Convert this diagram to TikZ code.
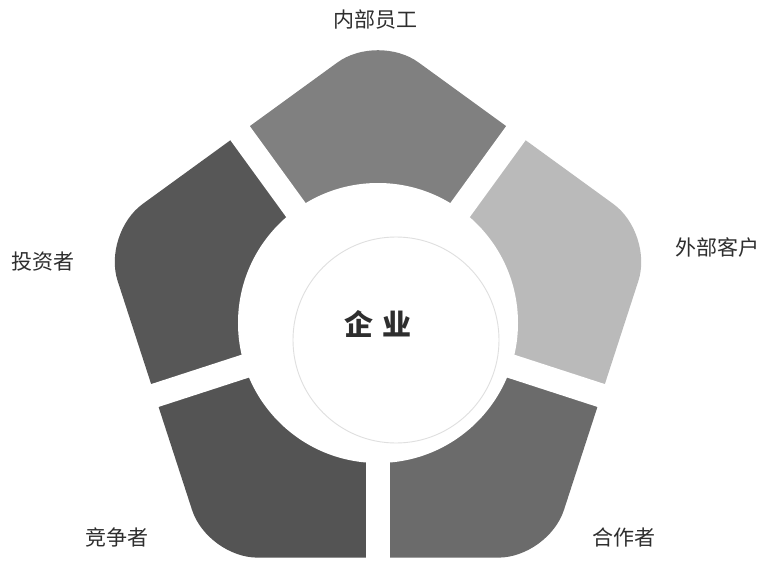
\documentclass[tikz,border=0pt]{standalone}
\usepackage{fontspec}
\newfontfamily\cjk{Noto Sans CJK SC}
\definecolor{segA}{gray}{0.50}
\definecolor{segB}{gray}{0.34}
\definecolor{segC}{gray}{0.33}
\definecolor{segD}{gray}{0.42}
\definecolor{segE}{gray}{0.73}
\definecolor{txt}{gray}{0.18}
\begin{document}
\begin{tikzpicture}[x=1pt,y=1pt,
  pent/.style={rounded corners=50pt},
  gapline/.style={white, line width=24pt},
  lbl/.style={font=\cjk\fontsize{21}{21}\selectfont, text=txt, inner sep=0pt},
  ctr/.style={font=\cjk\bfseries\fontsize{29}{29}\selectfont, text=txt, inner sep=0pt}]
\useasboundingbox (-378,-237) rectangle (395,323);
\fill[white] (-378,-237) rectangle (395,323);
\def\R{290}
\foreach \v/\c in {90/segA,162/segB,234/segC,306/segD,18/segE}{
  \begin{scope}
    \clip (0,0) -- (\v-36:420) -- (\v:440) -- (\v+36:420) -- cycle;
    \fill[\c, pent] (126:234.6) -- (162:\R) -- (234:\R) -- (306:\R) -- (18:\R) -- (90:\R) -- cycle;
  \end{scope}
}
\foreach \a in {54,126,198,270,342}
  \draw[gapline] (0,0) -- (\a:330);
\fill[white] (0,0) circle (140);
\draw[gray!25, line width=0.9pt] (18,-17) circle (103);
\node[ctr] (core) at (0,-1) {企\,\,业};
\node[lbl] (staff) at (-3,303) {内部员工};
\node[lbl] (cust) at (339,76) {外部客户};
\node[lbl] (inv) at (-335,61) {投资者};
\node[lbl] (comp) at (-261,-214) {竞争者};
\node[lbl] (part) at (246,-214) {合作者};
\end{tikzpicture}
\end{document}
